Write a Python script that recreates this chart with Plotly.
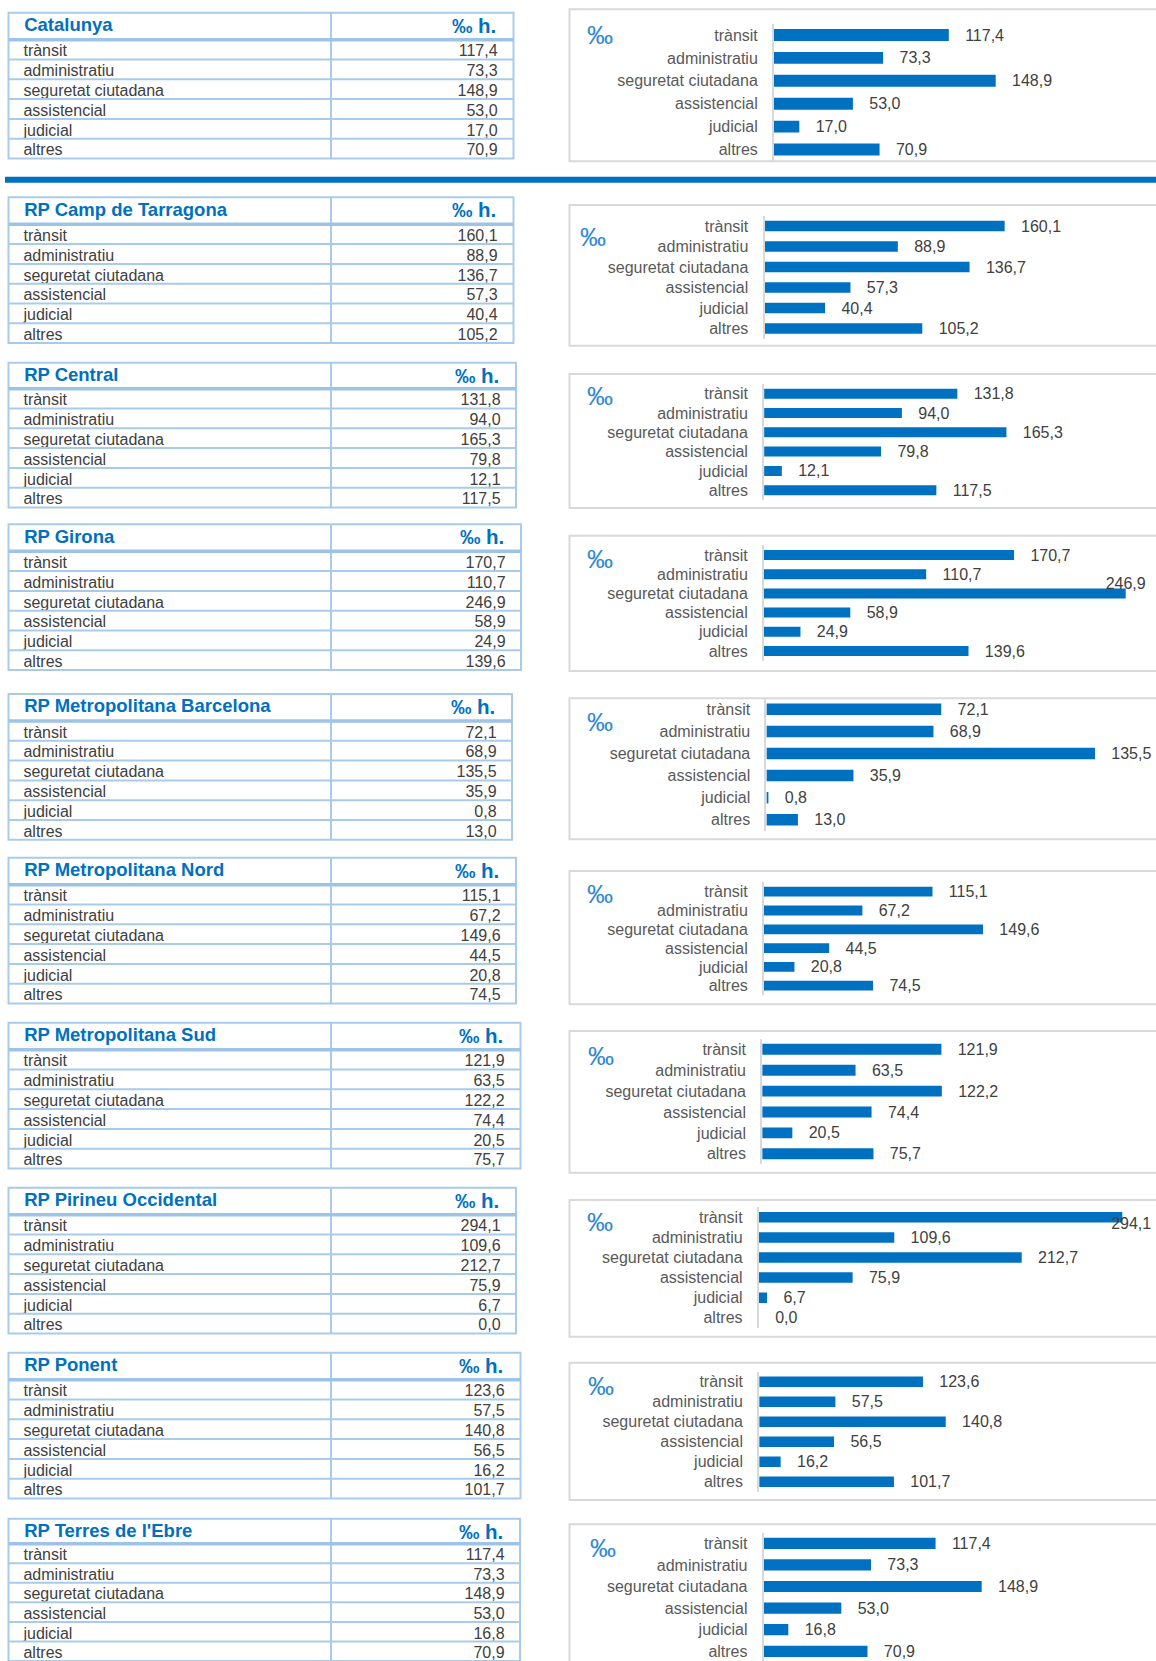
import plotly.graph_objects as go

W, H = 1156, 1661

# ---------------- data ----------------
categories = ["trànsit", "administratiu", "seguretat ciutadana", "assistencial", "judicial", "altres"]
regions = ["Catalunya", "RP Camp de Tarragona", "RP Central", "RP Girona",
           "RP Metropolitana Barcelona", "RP Metropolitana Nord", "RP Metropolitana Sud",
           "RP Pirineu Occidental", "RP Ponent", "RP Terres de l'Ebre"]
catalunya = [117.4, 73.3, 148.9, 53.0, 17.0, 70.9]
camp_tarragona = [160.1, 88.9, 136.7, 57.3, 40.4, 105.2]
central = [131.8, 94.0, 165.3, 79.8, 12.1, 117.5]
girona = [170.7, 110.7, 246.9, 58.9, 24.9, 139.6]
metro_barcelona = [72.1, 68.9, 135.5, 35.9, 0.8, 13.0]
metro_nord = [115.1, 67.2, 149.6, 44.5, 20.8, 74.5]
metro_sud = [121.9, 63.5, 122.2, 74.4, 20.5, 75.7]
pirineu_occidental = [294.1, 109.6, 212.7, 75.9, 6.7, 0.0]
ponent = [123.6, 57.5, 140.8, 56.5, 16.2, 101.7]
terres_ebre = [117.4, 73.3, 148.9, 53.0, 16.8, 70.9]
unit_header = "‰ h."
unit_chart = "‰"

series = [catalunya, camp_tarragona, central, girona, metro_barcelona,
          metro_nord, metro_sud, pirineu_occidental, ponent, terres_ebre]

# ---------------- layout (pixels) ----------------
table_top = [12.7, 197.3, 362.7, 524.3, 694, 857.7, 1022.7, 1187.7, 1352.7, 1518.7]
table_right = [513.5, 513.5, 516, 521, 512, 516, 520.5, 516, 520.5, 520]
header_h = [27, 27, 26, 27, 27, 27, 27, 27, 27, 25]
row_h = [19.8] * 9 + [19.55]
box_top = [9.3, 205, 374, 535.7, 698.3, 871, 1031, 1200, 1362.7, 1524.3]
box_bottom = [161.3, 345.7, 508, 671, 839.3, 1004.3, 1172.7, 1336.7, 1500, 1675]
axis_x = [774, 764.5, 764.1, 764, 766.4, 764, 762.2, 758.8, 759.2, 763.7]
first_bar = [35, 226, 393.7, 555, 709.3, 891.7, 1049.3, 1217.3, 1381.7, 1543.3]
bar_step = [22.9, 20.5, 19.3, 19.2, 22.1, 18.8, 20.9, 20.1, 20.0, 21.6]
px_per_unit = [1.489, 1.500, 1.466, 1.465, 2.425, 1.464, 1.470, 1.236, 1.325, 1.464]
pm_pos = [(599.5, 35), (593, 236.7), (600.4, 395.8), (600.4, 558.7), (600.4, 722),
          (600.4, 894), (600.8, 1056), (600, 1222), (601, 1386), (602.7, 1548)]

TABLE_LEFT = 8.5
TABLE_DIVIDER = 331
TEXT_LIFT = 3.4

FONT = "Liberation Sans, Arial, Helvetica, sans-serif"
BLUE = "#0070c0"
GRID = "#a9cbe9"
GRID_THICK = "#9dc3e6"
TXT = "#404040"
LBL = "#595959"
NB = "\u00a0"


def fmt(v):
    return f"{v:.1f}".replace(".", ",")


def px(x):
    return x / W


def py(y):
    return 1 - y / H


fig = go.Figure()
shapes = []
annotations = []


def hline(x0, x1, y, color, width):
    shapes.append(dict(type="line", xref="paper", yref="paper", x0=px(x0), x1=px(x1),
                       y0=py(y), y1=py(y), line=dict(color=color, width=width), layer="above"))


# blue separator band under Catalunya
shapes.append(dict(type="rect", xref="paper", yref="paper", x0=px(5), x1=1.01,
                   y0=py(182.7), y1=py(176.7), fillcolor=BLUE, line=dict(width=0), layer="above"))

for k, vals in enumerate(series):
    # ---------- table ----------
    top = table_top[k]
    hh, rh = header_h[k], row_h[k]
    total = hh + 6 * rh
    x0, xm, x1 = TABLE_LEFT, TABLE_DIVIDER, table_right[k]
    tx0, tx1 = x0 + 2.5, x1 - 3
    ttop = top - TEXT_LIFT
    fig.add_trace(go.Table(
        domain=dict(x=[px(tx0), px(tx1)], y=[max(0, py(ttop + total + 7)), py(ttop)]),
        columnwidth=[xm - tx0, tx1 - xm],
        header=dict(values=[NB + regions[k], unit_header + NB],
                    align=["left", "right"], height=hh,
                    font=dict(family=FONT, size=[18.5, 20.5], color=BLUE, weight="bold"),
                    fill_color="rgba(0,0,0,0)", line=dict(color="rgba(0,0,0,0)", width=0)),
        cells=dict(values=[[NB + c for c in categories], [fmt(v) + NB for v in vals]],
                   align=["left", "right"], height=rh,
                   font=dict(family=FONT, size=16, color=TXT),
                   fill_color="rgba(0,0,0,0)", line=dict(color="rgba(0,0,0,0)", width=0)),
    ))
    # table grid
    bottom = top + total
    shapes.append(dict(type="rect", xref="paper", yref="paper", x0=px(x0), x1=px(x1),
                       y0=py(bottom), y1=py(top), line=dict(color=GRID, width=2),
                       fillcolor="rgba(0,0,0,0)", layer="above"))
    shapes.append(dict(type="line", xref="paper", yref="paper", x0=px(xm), x1=px(xm),
                       y0=py(bottom), y1=py(top), line=dict(color=GRID, width=2), layer="above"))
    for i in range(1, 6):
        hline(x0, x1, top + hh + i * rh, GRID, 2)
    hline(x0, x1, top + hh, GRID_THICK, 3.5)

    # ---------- chart box ----------
    shapes.append(dict(type="rect", xref="paper", yref="paper", x0=px(569.5), x1=1.02,
                       y0=max(-0.01, py(box_bottom[k])), y1=py(box_top[k]),
                       line=dict(color="#d9d9d9", width=2), fillcolor="rgba(0,0,0,0)", layer="below"))

    # ---------- bar chart ----------
    n = "" if k == 0 else str(k + 1)
    sp = bar_step[k]
    y_top = first_bar[k] - 0.5 * sp
    y_bot = min(first_bar[k] + 5.5 * sp, H)
    r_end = -0.5 + (y_bot - y_top) / sp
    xmax = (W - axis_x[k]) / px_per_unit[k]

    fits = [axis_x[k] + v * px_per_unit[k] + 16 + 42 <= W for v in vals]
    bar_text = [NB * 3 + fmt(v) if f else "" for v, f in zip(vals, fits)]
    fig.add_trace(go.Bar(x=vals, y=categories, orientation="h", xaxis="x" + n, yaxis="y" + n,
                         marker=dict(color=BLUE, line=dict(width=0)), width=0.52,
                         text=bar_text, textposition="outside", constraintext="none",
                         textfont=dict(family=FONT, size=16, color=TXT), cliponaxis=False,
                         hoverinfo="skip", showlegend=False))

    # labels that do not fit to the right of their bar sit above / below its end
    over_text = ["" if f else fmt(v) for v, f in zip(vals, fits)]
    if any(over_text):
        over_pos = ["bottom center" if i == 0 else "top center" for i in range(len(vals))]
        over_text = [(NB * 4 + t if (t and i == 0) else t) for i, t in enumerate(over_text)]
        fig.add_trace(go.Scatter(x=vals, y=categories, mode="text", xaxis="x" + n, yaxis="y" + n,
                                 text=over_text, textposition=over_pos,
                                 textfont=dict(family=FONT, size=16, color=TXT),
                                 cliponaxis=False, hoverinfo="skip", showlegend=False))

    fig.layout["xaxis" + n] = dict(domain=[px(axis_x[k]), 1], range=[0, xmax], visible=False,
                                   anchor="y" + n, fixedrange=True)
    fig.layout["yaxis" + n] = dict(domain=[py(y_bot), py(y_top)], range=[r_end, -0.5],
                                   type="category", categoryorder="array", categoryarray=categories,
                                   tickmode="array", tickvals=categories, ticktext=categories,
                                   showline=True, linecolor="#d9d9d9", linewidth=2,
                                   ticks="", ticklabelstandoff=11, showgrid=False, zeroline=False,
                                   tickfont=dict(family=FONT, size=16, color=LBL),
                                   anchor="x" + n, fixedrange=True)

    annotations.append(dict(text=unit_chart, xref="paper", yref="paper",
                            x=px(pm_pos[k][0]), y=py(pm_pos[k][1]), xanchor="center", yanchor="middle",
                            showarrow=False, font=dict(family=FONT, size=26, color="#2e88d6")))

fig.update_layout(width=W, height=H, margin=dict(l=0, r=0, t=0, b=0, pad=0),
                  paper_bgcolor="white", plot_bgcolor="rgba(0,0,0,0)",
                  font=dict(family=FONT, color=TXT), showlegend=False,
                  shapes=shapes, annotations=annotations, bargap=0.48)

fig.write_html("out.html", config={"displayModeBar": False},
               post_script="document.body.style.margin='0';document.body.style.overflow='hidden';")
